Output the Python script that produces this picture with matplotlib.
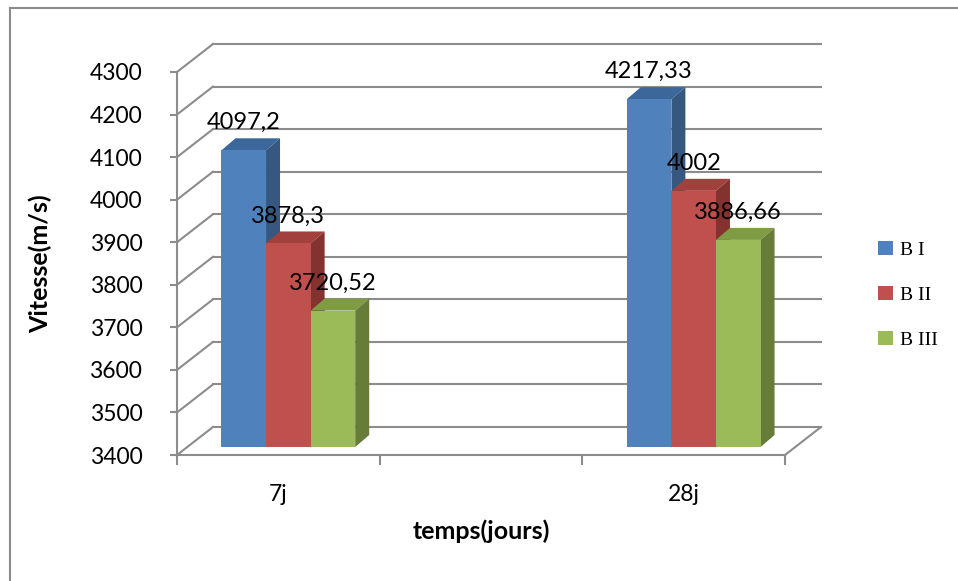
import numpy as np
import matplotlib.pyplot as plt
from matplotlib.patches import Polygon, Patch
from matplotlib.lines import Line2D

# Ultrasonic pulse velocity by curing time
categories = ["7j", "", "28j"]
series_names = ["B I", "B II", "B III"]
v_7j = [4097.2, 3878.3, 3720.52]
v_28j = [4217.33, 4002, 3886.66]
yticks = list(range(3400, 4301, 100))

front_cols = ["#4F81BD", "#C0504D", "#9BBB59"]
top_cols = ["#3C679A", "#A2403D", "#7F9C45"]
side_cols = ["#36577F", "#83322F", "#667C38"]
grid_col = "#8C8C8C"

plt.rcParams['font.family'] = ['Lato', 'DejaVu Sans']

W, H = 958, 581
fig = plt.figure(figsize=(W / 100, H / 100), dpi=100)
ax = fig.add_axes([177 / W, 126 / H, 608 / W, 383 / H])
ax.set_xlim(0, 3)
ax.set_ylim(3400, 4300)

# pixel -> data unit conversion for the fake depth
xpp = 3 / 608.0
ypp = 900 / 383.0
WALL = (36, 28)    # depth of the back wall
SHIFT = (10, 8)    # bars sit a bit behind the front plane
DEPTH = (14, 12)   # depth of each bar

for sp in ["top", "right"]:
    ax.spines[sp].set_visible(False)
for sp in ["left", "bottom"]:
    ax.spines[sp].set_color(grid_col)
    ax.spines[sp].set_linewidth(1.5)

# back wall gridlines and left wall diagonals
wx, wy = WALL[0] * xpp, WALL[1] * ypp
for v in yticks:
    ax.plot([wx, 3 + wx], [v + wy, v + wy], color=grid_col, lw=1.5,
            clip_on=False, zorder=1)
    ax.plot([0, wx], [v, v + wy], color=grid_col, lw=1.5, clip_on=False, zorder=1)
ax.plot([3, 3 + wx], [3400, 3400 + wy], color=grid_col, lw=1.5,
        clip_on=False, zorder=1)

ax.set_yticks(yticks)
ax.tick_params(axis='y', length=5, width=1.5, color=grid_col, labelsize=16.5,
               pad=20)
ax.set_xticks([0, 1, 2, 3])
ax.set_xticklabels([])
ax.tick_params(axis='x', which='major', length=7, width=1.5, color=grid_col)
ax.set_xticks([0.5, 1.5, 2.5], minor=True)
ax.set_xticklabels(categories, minor=True, fontsize=16.5)
ax.tick_params(axis='x', which='minor', length=0, pad=21)

ax.set_ylabel("Vitesse(m/s)", fontsize=18, fontweight='bold', labelpad=27)
ax.set_xlabel("temps(jours)", fontsize=18, fontweight='bold', labelpad=10)

bw = 0.22
sx, sy = SHIFT[0] * xpp, SHIFT[1] * ypp
dx, dy = DEPTH[0] * xpp, DEPTH[1] * ypp
groups = [(0.5, v_7j), (2.5, v_28j)]
z = 3
for center, vals in groups:
    for i, v in enumerate(vals):
        x0 = center + (i - 1) * bw - bw / 2 + sx
        x1 = x0 + bw
        base = 3400 + sy
        top = v + sy
        ax.bar(x0, v - 3400, width=bw, bottom=base, align='edge',
               color=front_cols[i], zorder=z + 2, clip_on=False)
        ax.add_patch(Polygon([(x0, top), (x1, top), (x1 + dx, top + dy),
                              (x0 + dx, top + dy)], closed=True,
                             facecolor=top_cols[i], edgecolor='none',
                             zorder=z, clip_on=False))
        ax.add_patch(Polygon([(x1, base), (x1, top), (x1 + dx, top + dy),
                              (x1 + dx, base + dy)], closed=True,
                             facecolor=side_cols[i], edgecolor='none',
                             zorder=z + 1, clip_on=False))
        ax.annotate(f"{v:g}".replace('.', ','), xy=((x0 + x1) / 2, v),
                    xytext=(0, 18), textcoords='offset points',
                    ha='center', va='bottom', fontsize=17, zorder=20,
                    annotation_clip=False)
        z += 3

handles = [Patch(facecolor=c, edgecolor='none') for c in front_cols]
fig.legend(handles, series_names, loc='center left',
           bbox_to_anchor=(878 / W, 1 - 295 / H), frameon=False,
           prop={'family': 'Liberation Serif', 'size': 14},
           handlelength=0.75, handleheight=0.75, handletextpad=0.4,
           labelspacing=1.4, borderpad=0, borderaxespad=0)

# chart frame
fig.add_artist(Line2D([9.5 / W, 9.5 / W], [0, 1 - 7.5 / H], color=grid_col, lw=1.5))
fig.add_artist(Line2D([9.5 / W, 1], [1 - 7.5 / H, 1 - 7.5 / H], color=grid_col, lw=1.5))

fig.savefig("out.png", dpi=100)
